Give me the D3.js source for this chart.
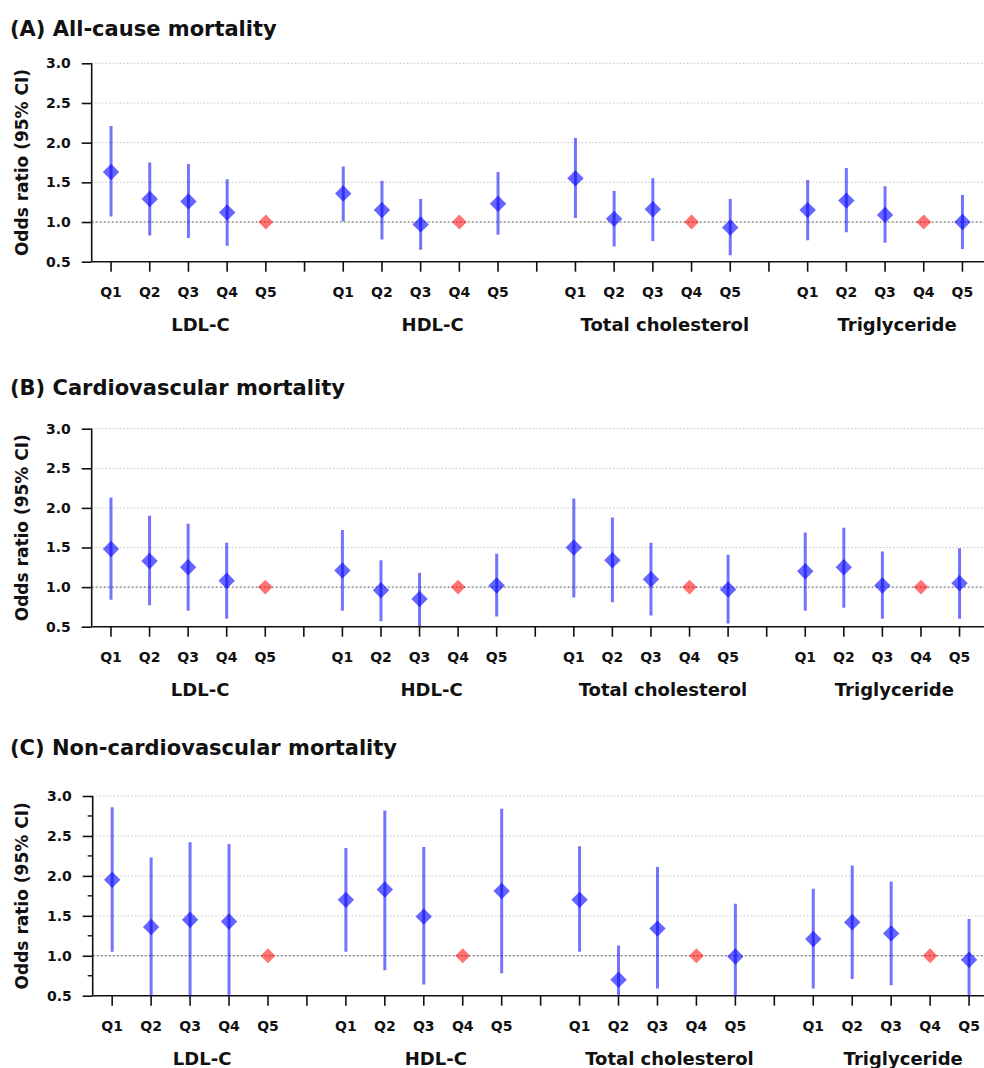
<!DOCTYPE html>
<html>
<head>
<meta charset="utf-8">
<script src="https://cdn.jsdelivr.net/npm/d3@7"></script>
<style>
  html, body { margin: 0; padding: 0; background: #fff; }
  svg text { font-family: "DejaVu Sans", Verdana, sans-serif; font-weight: bold; fill: #111; }
</style>
</head>
<body>
<svg id="chart" width="984" height="1068"></svg>
<script>
// ---------- data ----------
const groups = ["LDL-C", "HDL-C", "Total cholesterol", "Triglyceride"];
const quintiles = ["Q1", "Q2", "Q3", "Q4", "Q5"];
const refQuintile = ["Q5", "Q4", "Q4", "Q4"];          // reference category per lipid
const yTicks = [0.5, 1.0, 1.5, 2.0, 2.5, 3.0];
const panelTitles = ["(A) All-cause mortality", "(B) Cardiovascular mortality", "(C) Non-cardiovascular mortality"];
const yLabel = "Odds ratio (95% CI)";

// odds ratios, order: LDL Q1..Q5, HDL Q1..Q5, TC Q1..Q5, TG Q1..Q5
const allCauseOR = [1.63, 1.29, 1.26, 1.12, 1.00, 1.36, 1.15, 0.97, 1.00, 1.23, 1.55, 1.04, 1.16, 1.00, 0.93, 1.15, 1.27, 1.09, 1.00, 1.00];
const allCauseLo = [1.07, 0.83, 0.80, 0.70, null, 1.01, 0.78, 0.65, null, 0.84, 1.05, 0.69, 0.76, null, 0.58, 0.77, 0.87, 0.74, null, 0.66];
const allCauseHi = [2.21, 1.75, 1.73, 1.54, null, 1.70, 1.52, 1.29, null, 1.63, 2.06, 1.39, 1.55, null, 1.29, 1.53, 1.68, 1.45, null, 1.34];

const cvOR = [1.48, 1.33, 1.25, 1.08, 1.00, 1.21, 0.96, 0.85, 1.00, 1.02, 1.50, 1.34, 1.10, 1.00, 0.97, 1.20, 1.25, 1.02, 1.00, 1.05];
const cvLo = [0.84, 0.77, 0.70, 0.60, null, 0.70, 0.57, 0.51, null, 0.63, 0.87, 0.81, 0.64, null, 0.54, 0.70, 0.74, 0.60, null, 0.60];
const cvHi = [2.13, 1.90, 1.80, 1.56, null, 1.72, 1.34, 1.18, null, 1.42, 2.12, 1.88, 1.56, null, 1.41, 1.69, 1.75, 1.45, null, 1.49];

const ncvOR = [1.95, 1.36, 1.45, 1.43, 1.00, 1.70, 1.83, 1.49, 1.00, 1.81, 1.70, 0.70, 1.34, 1.00, 0.99, 1.21, 1.42, 1.28, 1.00, 0.95];
const ncvLo = [1.05, 0.40, 0.40, 0.40, null, 1.05, 0.82, 0.64, null, 0.78, 1.05, 0.40, 0.59, null, 0.40, 0.59, 0.71, 0.63, null, 0.40];
const ncvHi = [2.86, 2.23, 2.42, 2.40, null, 2.35, 2.82, 2.36, null, 2.84, 2.37, 1.13, 2.11, null, 1.65, 1.84, 2.13, 1.93, null, 1.46];

// ---------- layout ----------
const W = 984;
const panels = [
  { title: panelTitles[0], or: allCauseOR, lo: allCauseLo, hi: allCauseHi, top: 63.3, bottom: 261.7, left: 91.7, step: 38.7, titleY: 36, minor: false },
  { title: panelTitles[1], or: cvOR, lo: cvLo, hi: cvHi, top: 428.7, bottom: 626.7, left: 91.7, step: 38.57, titleY: 395, minor: false },
  { title: panelTitles[2], or: ncvOR, lo: ncvLo, hi: ncvHi, top: 796, bottom: 995.7, left: 92.7, step: 38.95, titleY: 755, minor: true }
];

const svg = d3.select("#chart");
const nSlots = groups.length * (quintiles.length + 1) - 1; // 23 slots incl. gaps
const blue = "#0000ff", red = "#ff0000";

panels.forEach((p, pi) => {
  const g = svg.append("g");
  const x = d3.scaleBand().domain(d3.range(nSlots)).range([p.left, p.left + p.step * nSlots]).padding(0);
  const cx = i => x(i) + x.bandwidth() / 2;
  const y = d3.scaleLinear().domain([0.5, 3.0]).range([p.bottom, p.top]);

  const clipId = "clip" + pi;
  g.append("clipPath").attr("id", clipId).append("rect")
    .attr("x", p.left).attr("y", p.top - 20).attr("width", W - p.left).attr("height", p.bottom - p.top + 20);

  // title
  g.append("text").attr("x", 10).attr("y", p.titleY).attr("font-size", 21).text(p.title);

  // grid lines
  g.selectAll(".grid").data(yTicks.filter(t => t > 1.0)).join("line")
    .attr("x1", p.left).attr("x2", W).attr("y1", d => y(d)).attr("y2", d => y(d))
    .attr("stroke", "#c4c4c4").attr("stroke-width", 1).attr("stroke-dasharray", "1.5,2");
  g.append("line").attr("x1", p.left).attr("x2", W).attr("y1", y(1.0)).attr("y2", y(1.0))
    .attr("stroke", "#555").attr("stroke-width", 1).attr("stroke-dasharray", "2,2");

  // y axis
  const yAxis = d3.axisLeft(y).tickValues(yTicks).tickFormat(d3.format(".1f")).tickSize(10).tickPadding(11);
  const ya = g.append("g").attr("transform", `translate(${p.left},0)`).call(yAxis);
  ya.select(".domain").attr("stroke", "#111").attr("stroke-width", 1.6).attr("d", `M0,${p.bottom}V${p.top}`);
  ya.selectAll(".tick line").attr("stroke", "#111").attr("stroke-width", 1.6);
  ya.selectAll(".tick text").attr("font-size", 14).attr("font-family", "DejaVu Sans").attr("font-weight", "bold").attr("fill", "#111");
  if (p.minor) {
    const minorTicks = yTicks.slice(0, -1).map(t => t + 0.25);
    g.selectAll(".minor").data(minorTicks).join("line")
      .attr("x1", p.left - 5).attr("x2", p.left).attr("y1", d => y(d)).attr("y2", d => y(d))
      .attr("stroke", "#111").attr("stroke-width", 1.4);
  }

  // y label
  g.append("text").attr("transform", `translate(28,${(p.top + p.bottom) / 2}) rotate(-90)`)
    .attr("text-anchor", "middle").attr("font-size", 17).text(yLabel);

  // x axis
  const tickLabel = i => {
    const q = i % (quintiles.length + 1);
    return q < quintiles.length ? quintiles[q] : "";
  };
  const xAxis = d3.axisBottom(x).tickSize(10).tickPadding(15).tickFormat(tickLabel);
  const xa = g.append("g").attr("transform", `translate(0,${p.bottom})`).call(xAxis);
  xa.select(".domain").attr("stroke", "#111").attr("stroke-width", 1.6).attr("d", `M${p.left},0H${W}`);
  xa.selectAll(".tick line").attr("stroke", "#111").attr("stroke-width", 1.6);
  xa.selectAll(".tick text").attr("font-size", 14).attr("font-family", "DejaVu Sans").attr("font-weight", "bold").attr("fill", "#111");

  // group labels
  groups.forEach((grp, gi) => {
    const s = gi * (quintiles.length + 1) + 2;
    g.append("text").attr("x", cx(s) + 12).attr("y", p.bottom + 69)
      .attr("text-anchor", "middle").attr("font-size", 18).text(grp);
  });

  // data points
  const pts = [];
  groups.forEach((grp, gi) => quintiles.forEach((q, qi) => {
    const k = gi * quintiles.length + qi;
    pts.push({ slot: gi * (quintiles.length + 1) + qi, or: p.or[k], lo: p.lo[k], hi: p.hi[k], ref: refQuintile[gi] === q });
  }));

  const marks = g.append("g").attr("clip-path", `url(#${clipId})`);
  marks.selectAll(".ci").data(pts.filter(d => !d.ref && d.lo != null)).join("line")
    .attr("x1", d => cx(d.slot)).attr("x2", d => cx(d.slot))
    .attr("y1", d => y(d.lo)).attr("y2", d => y(d.hi))
    .attr("stroke", blue).attr("stroke-opacity", 0.55).attr("stroke-width", 3);
  marks.selectAll(".pt").data(pts).join("path")
    .attr("d", d => d3.symbol(d3.symbolSquare, d.ref ? 110 : 135)())
    .attr("transform", d => `translate(${cx(d.slot)},${y(d.or)}) rotate(45)`)
    .attr("fill", d => d.ref ? red : blue)
    .attr("fill-opacity", d => d.ref ? 0.55 : 0.6);
});
</script>
</body>
</html>
